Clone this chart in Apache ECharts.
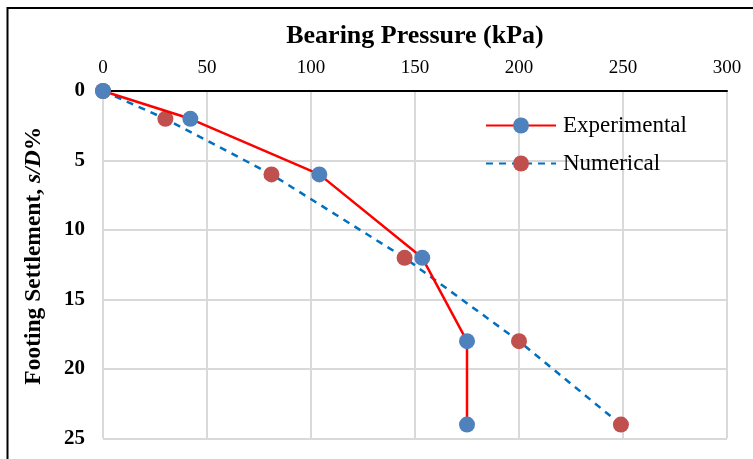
<!DOCTYPE html>
<html>
<head>
<meta charset="utf-8">
<script src="https://cdn.jsdelivr.net/npm/echarts@6/dist/echarts.min.js"></script>
<style>html,body{margin:0;padding:0;background:#fff}#c{width:753px;height:459px}</style>
</head>
<body>
<div id="c"></div>
<script>
const xTicks = [0, 50, 100, 150, 200, 250, 300];
const yTicks = [0, 5, 10, 15, 20, 25];
const expPressure = [0, 42, 104, 153.5, 175, 175];
const expSettlement = [0, 2, 6, 12, 18, 24];
const numPressure = [0, 30, 81, 145, 200, 249];
const numSettlement = [0, 2, 6, 12, 18, 24];
const seriesNames = ['Experimental', 'Numerical'];

const chart = echarts.init(document.getElementById('c'));
const font = 'Liberation Serif';
chart.setOption({
  animation: false,
  backgroundColor: '#fff',
  textStyle: { fontFamily: font },
  grid: { left: 103, right: 26, top: 91, bottom: 20.5, containLabel: false },
  graphic: [{
    type: 'polyline',
    shape: { points: [[7.5, 459], [7.5, 8], [753, 8]] },
    style: { stroke: '#000', lineWidth: 2, fill: null }
  }],
  legend: {
    left: 485, top: 114, orient: 'vertical', padding: 0,
    itemWidth: 70, itemHeight: 20, itemGap: 15,
    textStyle: { fontFamily: font, fontSize: 23, color: '#000', padding: [0, 0, 0, 2] },
    data: seriesNames
  },
  xAxis: {
    type: 'value', position: 'top', min: xTicks[0], max: xTicks[xTicks.length - 1], interval: 50,
    name: 'Bearing Pressure (kPa)', nameLocation: 'middle', nameGap: 42,
    nameTextStyle: { fontFamily: font, fontSize: 26, fontWeight: 'bold', color: '#000' },
    axisLine: { show: true, lineStyle: { color: '#000', width: 2 } },
    axisTick: { show: false },
    axisLabel: { fontFamily: font, fontSize: 19, color: '#000', margin: 13 },
    splitLine: { show: true, lineStyle: { color: '#d9d9d9', width: 2 } }
  },
  yAxis: {
    type: 'value', inverse: true, min: yTicks[0], max: yTicks[yTicks.length - 1], interval: 5,
    name: 'Footing Settlement, {i|s/D}%', nameLocation: 'middle', nameGap: 57, nameRotate: 90,
    nameTextStyle: { fontFamily: font, fontSize: 23.5, fontWeight: 'bold', color: '#000', padding: [0, 0, 0, 18],
      rich: { i: { fontFamily: font, fontSize: 23.5, fontWeight: 'bold', fontStyle: 'italic', color: '#000' } } },
    axisLine: { show: false },
    axisTick: { show: false },
    axisLabel: { fontFamily: font, fontSize: 21, fontWeight: 'bold', color: '#000', margin: 18 },
    splitLine: { show: true, lineStyle: { color: '#d9d9d9', width: 2 } }
  },
  series: [
    {
      name: seriesNames[0], type: 'line', z: 3,
      data: expPressure.map((p, i) => [p, expSettlement[i]]),
      symbol: 'circle', symbolSize: 16,
      itemStyle: { color: '#4F81BD' },
      lineStyle: { color: '#FF0000', width: 2.5 }
    },
    {
      name: seriesNames[1], type: 'line', z: 2,
      data: numPressure.map((p, i) => [p, numSettlement[i]]),
      symbol: 'circle', symbolSize: 16,
      itemStyle: { color: '#C0504D' },
      lineStyle: { color: '#0070C0', width: 2.5, type: [7, 6] }
    }
  ]
});
</script>
</body>
</html>
